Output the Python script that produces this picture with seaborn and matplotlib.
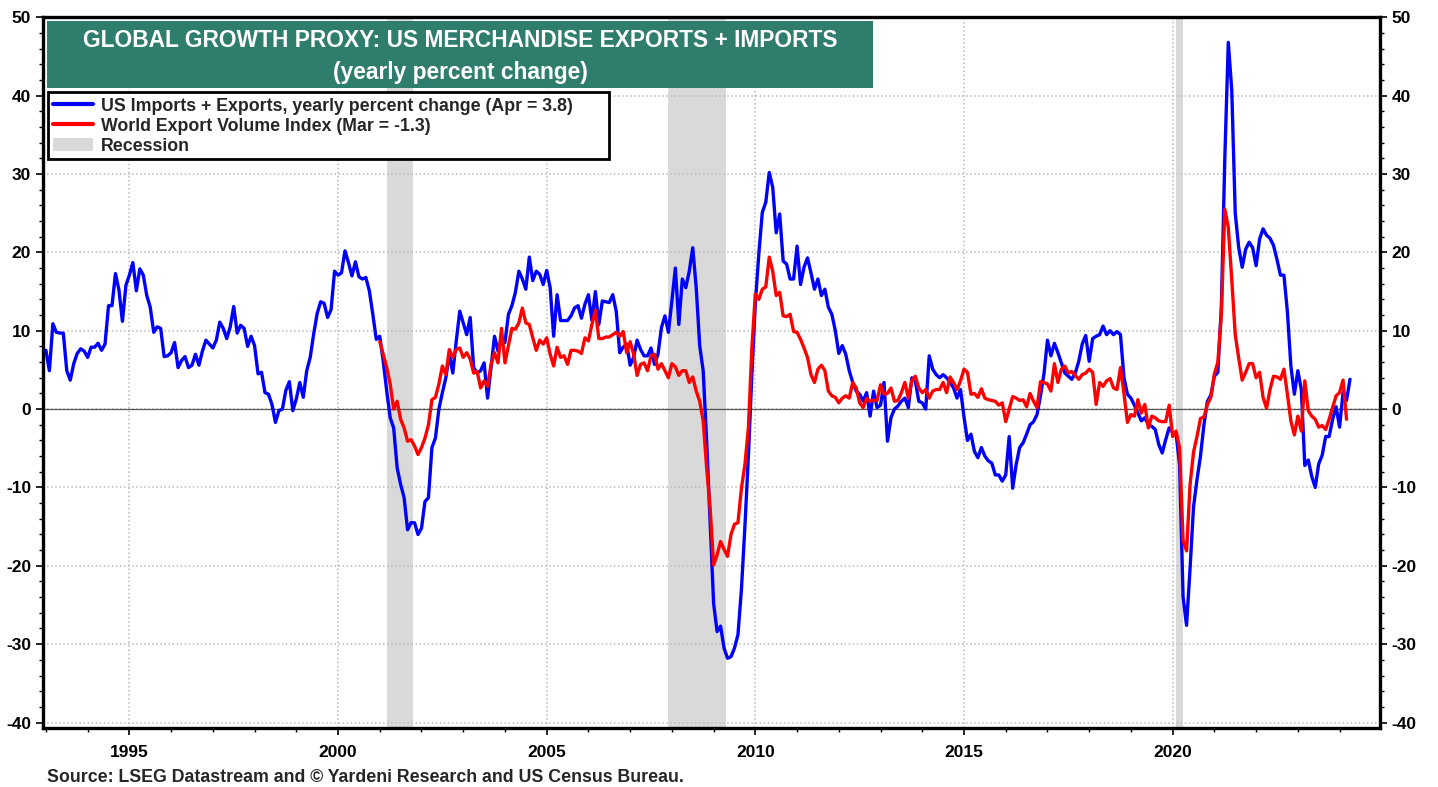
import numpy as np
import pandas as pd
import matplotlib
matplotlib.use("Agg")
import matplotlib.pyplot as plt
import seaborn as sns
from matplotlib.lines import Line2D
from matplotlib.patches import Patch, Rectangle

# US imports + exports, yearly % change, monthly from Jan 1993 to Apr 2024
us_trade_yoy = [
    7.5, 4.9, 10.9, 9.8, 9.7, 9.7, 4.9, 3.7, 5.8, 7.1, 7.7, 7.4,          # 1993
    6.6, 7.9, 7.9, 8.4, 7.5, 8.3, 13.2, 13.2, 17.3, 15.2, 11.2, 15.8,     # 1994
    17.1, 18.7, 15.1, 17.9, 17.1, 14.5, 13.0, 9.8, 10.5, 10.3, 6.7, 6.8,  # 1995
    7.2, 8.5, 5.3, 6.2, 6.7, 5.3, 5.6, 7.0, 5.6, 7.4, 8.8, 8.3,           # 1996
    7.8, 8.8, 11.1, 10.3, 9.0, 10.5, 13.1, 9.7, 10.7, 10.3, 8.0, 9.3,     # 1997
    8.1, 4.5, 4.7, 2.1, 1.9, 0.6, -1.7, -0.2, 0.0, 2.4, 3.5, -0.2,        # 1998
    1.3, 3.4, 1.5, 4.9, 6.6, 9.6, 12.2, 13.7, 13.5, 11.7, 12.7, 17.6,     # 1999
    17.1, 17.4, 20.2, 18.7, 17.0, 18.8, 16.9, 16.6, 16.8, 15.1, 12.1, 8.9,  # 2000
    9.3, 6.1, 2.3, -1.1, -2.4, -7.5, -9.6, -11.3, -15.4, -14.5, -14.5, -16.0,  # 2001
    -15.2, -11.8, -11.3, -4.9, -3.7, 0.0, 2.1, 4.0, 7.0, 4.6, 8.7, 12.5,  # 2002
    11.0, 9.5, 11.7, 5.3, 4.6, 4.9, 5.9, 1.4, 5.3, 9.3, 7.4, 9.1,         # 2003
    8.5, 12.1, 13.2, 14.9, 17.6, 16.6, 15.3, 19.4, 16.4, 17.6, 17.2, 15.9,  # 2004
    17.7, 15.5, 9.3, 14.6, 11.3, 11.3, 11.3, 11.9, 12.9, 13.2, 11.6, 13.4,  # 2005
    14.6, 11.3, 15.0, 10.8, 13.8, 13.7, 13.6, 14.6, 12.5, 7.2, 7.9, 8.3,  # 2006
    5.6, 6.6, 8.8, 7.6, 6.8, 6.8, 7.8, 5.7, 7.0, 10.4, 11.9, 9.8,         # 2007
    13.8, 18.0, 10.8, 16.6, 15.5, 17.6, 20.6, 15.5, 8.1, 4.9, -4.1, -14.3,  # 2008
    -24.8, -28.4, -27.7, -30.5, -31.8, -31.6, -30.5, -28.8, -23.0, -15.0, -6.0, 4.4,  # 2009
    13.5, 19.8, 25.1, 26.4, 30.2, 28.3, 22.5, 24.9, 18.9, 18.5, 16.6, 16.6,  # 2010
    20.8, 15.9, 18.1, 19.3, 17.4, 15.3, 16.6, 14.5, 15.3, 13.0, 12.1, 10.0,  # 2011
    7.1, 8.1, 7.0, 4.9, 3.4, 2.3, 1.9, 1.0, 2.1, -0.9, 2.3, 0.2,          # 2012
    0.5, 3.4, -4.1, -1.1, 0.0, 0.4, 1.0, 1.4, 0.2, 4.0, 3.6, 1.0,         # 2013
    0.8, 0.0, 6.8, 5.1, 4.4, 4.0, 4.4, 4.0, 3.4, 2.7, 1.4, 2.5,           # 2014
    -1.0, -4.0, -3.2, -5.4, -6.2, -4.9, -6.0, -6.6, -6.9, -8.4, -8.4, -9.2,  # 2015
    -8.4, -3.5, -10.1, -7.1, -4.9, -4.3, -3.2, -2.0, -1.6, -0.7, 1.7, 4.5,  # 2016
    8.8, 6.8, 8.4, 7.2, 5.9, 4.6, 4.2, 3.8, 4.6, 6.1, 8.3, 9.4,           # 2017
    6.1, 9.0, 9.3, 9.5, 10.6, 9.5, 10.0, 9.5, 9.9, 9.5, 4.0, 1.9,         # 2018
    1.4, 0.5, -0.5, -1.5, -1.1, -2.0, -2.2, -2.6, -4.5, -5.6, -3.9, -2.4,  # 2019
    -3.0, -3.2, -7.1, -24.0, -27.6, -20.4, -12.5, -9.0, -6.0, -2.0, 1.0, 1.8,  # 2020
    4.2, 4.7, 13.0, 32.0, 46.8, 40.7, 25.0, 20.6, 18.1, 20.4, 21.3, 20.6,  # 2021
    18.3, 21.7, 23.0, 22.2, 21.8, 20.9, 19.1, 17.1, 17.1, 12.4, 5.5, 1.9,  # 2022
    4.9, 2.5, -7.2, -6.5, -8.6, -10.0, -7.0, -5.9, -3.5, -3.5, -1.3, 0.3,  # 2023
    -2.3, 2.1, 1.1, 3.8,                                                   # 2024
]

# World export volume index, yearly % change, monthly from Jan 2001 to Mar 2024
world_export_vol = [
    8.6, 7.0, 5.3, 3.2, 0.0, 1.0, -1.3, -2.4, -4.1, -3.9, -4.7, -5.8,     # 2001
    -4.9, -3.7, -2.0, 1.2, 1.5, 3.2, 5.5, 4.4, 7.6, 6.6, 7.6, 7.8,        # 2002
    6.6, 7.2, 6.4, 4.6, 4.8, 2.7, 3.6, 2.9, 5.7, 7.2, 5.9, 10.3,          # 2003
    5.9, 8.1, 10.3, 10.2, 11.0, 12.9, 11.0, 10.8, 9.1, 7.5, 8.8, 8.3,     # 2004
    9.1, 7.0, 5.5, 7.9, 6.6, 6.8, 5.7, 7.5, 7.5, 7.4, 7.1, 9.1,           # 2005
    8.7, 10.8, 12.6, 9.0, 9.0, 9.2, 9.2, 9.5, 9.8, 9.3, 9.9, 7.2,         # 2006
    8.6, 7.0, 4.3, 5.7, 5.9, 4.9, 6.8, 7.0, 5.1, 5.8, 4.9, 4.0,           # 2007
    5.8, 5.4, 4.3, 4.9, 4.9, 3.4, 4.1, 2.3, 1.0, -1.5, -7.5, -12.6,       # 2008
    -19.9, -18.6, -16.9, -17.9, -18.8, -16.0, -14.7, -14.5, -10.1, -7.1, -2.4, 7.8,  # 2009
    14.7, 14.0, 15.3, 15.6, 19.4, 17.6, 14.5, 14.9, 11.9, 11.8, 12.1, 9.9,  # 2010
    9.8, 8.9, 7.8, 6.6, 4.4, 3.4, 5.1, 5.6, 4.9, 2.3, 1.7, 1.5,           # 2011
    0.8, 1.4, 1.7, 1.4, 3.4, 2.7, 0.8, 0.2, 1.4, 1.0, 1.1, 1.1,           # 2012
    3.1, 1.9, 2.0, 2.7, 1.0, 1.1, 2.1, 3.4, 1.4, 3.6, 4.2, 2.7,           # 2013
    2.1, 2.5, 1.4, 2.3, 2.5, 2.5, 3.4, 2.1, 4.1, 3.4, 2.5, 3.6,           # 2014
    5.1, 4.7, 1.9, 2.0, 1.5, 2.6, 1.4, 1.2, 1.1, 1.0, 0.5, 0.8,           # 2015
    -1.6, 0.0, 1.6, 1.4, 1.1, 1.2, 0.3, 2.0, 1.0, 0.2, 3.5, 3.4,          # 2016
    3.2, 2.3, 5.8, 3.4, 5.1, 5.5, 4.6, 4.8, 4.3, 3.8, 4.4, 4.6,           # 2017
    5.1, 4.7, 0.6, 3.4, 2.9, 3.6, 3.9, 2.7, 2.5, 5.3, 2.0, -1.7,          # 2018
    -0.7, -0.9, 1.2, -0.5, 0.6, -2.4, -0.9, -1.1, -1.5, -1.6, -1.6, 0.5,  # 2019
    -3.5, -2.8, -5.0, -16.8, -18.1, -9.7, -5.5, -3.5, -1.2, -1.0, 0.6, 1.5,  # 2020
    4.5, 6.0, 12.0, 25.5, 23.2, 16.5, 9.5, 6.5, 3.7, 4.7, 5.8, 5.8,       # 2021
    4.0, 4.7, 1.5, 0.1, 2.5, 4.2, 4.1, 3.8, 5.1, 1.9, -1.5, -3.3,         # 2022
    -0.9, -2.8, 3.6, -0.2, -0.9, -1.3, -2.3, -2.1, -2.6, -1.3, 0.2, 1.7,  # 2023
    2.1, 3.7, -1.3,                                                        # 2024
]

recession_start = [2001.167, 2007.917, 2020.083]
recession_end = [2001.80, 2009.30, 2020.25]

label_us = "US Imports + Exports, yearly percent change (Apr = 3.8)"
label_world = "World Export Volume Index (Mar = -1.3)"
title_1 = "GLOBAL GROWTH PROXY: US MERCHANDISE EXPORTS + IMPORTS"
title_2 = "(yearly percent change)"
source = "Source: LSEG Datastream and \u00a9 Yardeni Research and US Census Bureau."

# long-form frame, monthly dates as decimal years
df = pd.concat([
    pd.DataFrame({"date": 1993 + np.arange(len(us_trade_yoy)) / 12,
                  "value": us_trade_yoy, "series": label_us}),
    pd.DataFrame({"date": 2001 + np.arange(len(world_export_vol)) / 12,
                  "value": world_export_vol, "series": label_world}),
])

sns.set_theme(style="white")
plt.rcParams["font.family"] = ["Liberation Sans", "DejaVu Sans"]
plt.rcParams["axes.unicode_minus"] = False

fig = plt.figure(figsize=(14.38, 7.87), dpi=100)
ax = fig.add_axes([0.0299, 0.07497, 0.9298, 0.9030])

for s, e in zip(recession_start, recession_end):
    ax.axvspan(s, e, color="#D9D9D9", lw=0, zorder=0)

ax.axhline(0, color="#555555", lw=0.9, zorder=1)

sns.lineplot(data=df, x="date", y="value", hue="series",
             palette={label_us: "#0000FF", label_world: "#FF0000"},
             linewidth=2.4, legend=False, sort=False, ax=ax, zorder=3)

ax.set_xlim(1992.93, 2024.97)
ax.set_ylim(-40.7, 50)
ax.set_xlabel("")
ax.set_ylabel("")

ax.set_xticks([1995, 2000, 2005, 2010, 2015, 2020])
ax.set_xticks(range(1993, 2025), minor=True)
ax.set_yticks(range(-40, 51, 10))
ax.set_yticks(range(-40, 51, 2), minor=True)
ax.grid(which="major", ls=":", color="#BBBBBB", lw=1.1)

ax.tick_params(axis="both", which="both", direction="out", colors="black",
               labelsize=12.5)
ax.tick_params(axis="both", which="major", length=5, width=1.2)
ax.tick_params(axis="both", which="minor", length=3, width=1.0)
ax.tick_params(axis="y", which="both", right=True, labelright=True, left=True)
ax.tick_params(axis="x", which="both", bottom=True, top=False, pad=7)
for lab in ax.get_xticklabels() + ax.get_yticklabels():
    lab.set_fontweight("bold")

for sp in ax.spines.values():
    sp.set_linewidth(2.4)
    sp.set_color("black")

# title banner
ax.add_patch(Rectangle((0.0028, 0.9001), 0.6177, 0.0951, transform=ax.transAxes,
                       facecolor="#2F7D6D", edgecolor="none", zorder=5))
ax.text(0.3119, 0.968, title_1, transform=ax.transAxes, ha="center", va="center",
        color="white", fontsize=16.4, fontweight="bold", zorder=6)
ax.text(0.3119, 0.9225, title_2, transform=ax.transAxes, ha="center", va="center",
        color="white", fontsize=16.4, fontweight="bold", zorder=6)

# legend box
ax.add_patch(Rectangle((0.0037, 0.8003), 0.4193, 0.0942, transform=ax.transAxes,
                       facecolor="white", edgecolor="black", lw=2, zorder=5))
handles = [Line2D([], [], color="#0000FF", lw=3),
           Line2D([], [], color="#FF0000", lw=3),
           Patch(facecolor="#D9D9D9", edgecolor="none")]
leg = ax.legend(handles, [label_us, label_world, "Recession"], loc="upper left",
                bbox_to_anchor=(0.0037, 0.8945), frameon=False, borderaxespad=0,
                prop={"weight": "bold", "size": 12.8}, handlelength=2.25,
                handletextpad=0.45, labelspacing=0.17, borderpad=0.3)
leg.set_zorder(6)

fig.text(0.0327, 0.0125, source, ha="left", va="center", fontsize=12.8,
         fontweight="bold")

fig.savefig("out.png", dpi=100)
